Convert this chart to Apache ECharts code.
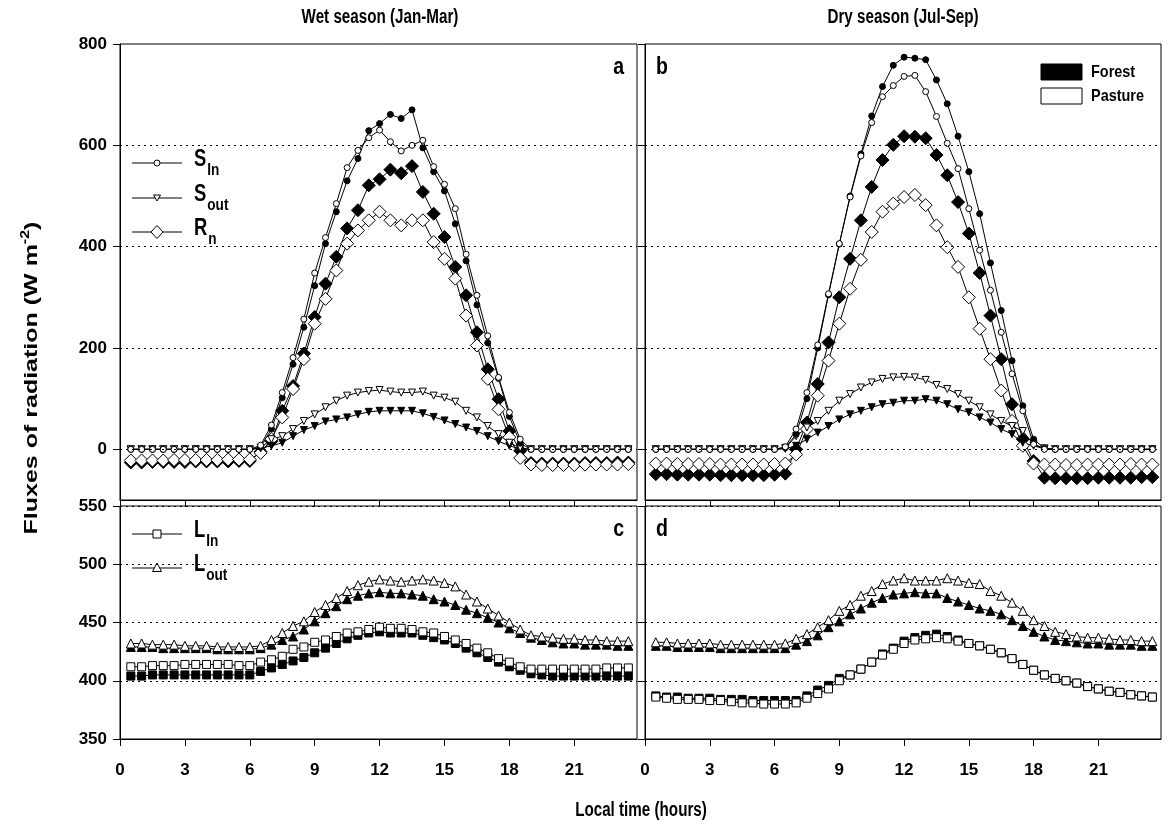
<!DOCTYPE html>
<html><head><meta charset="utf-8">
<script src="https://cdn.jsdelivr.net/npm/echarts@6/dist/echarts.min.js"></script>
<style>html,body{margin:0;padding:0;background:#fff}#c{width:1168px;height:836px}</style>
</head><body><div id="c"></div>
<script>
// ---------------- DATA ----------------
const hours = [0.5,1,1.5,2,2.5,3,3.5,4,4.5,5,5.5,6,6.5,7,7.5,8,8.5,9,9.5,10,10.5,11,11.5,12,12.5,13,13.5,14,14.5,15,15.5,16,16.5,17,17.5,18,18.5,19,19.5,20,20.5,21,21.5,22,22.5,23,23.5];
const xTickValues = [0,3,6,9,12,15,18,21];
const shortwaveTicks = [0,200,400,600,800];
const longwaveTicks = [350,400,450,500,550];
const shortwaveGrid = [0,200,400,600];

// Wet season (Jan-Mar) shortwave / net
const wetSinForest  = [0,0,0,0,0,0,0,0,0,0,0,0,5,40,102,168,241,323,406,469,530,574,629,643,661,653,670,595,548,510,445,372,285,210,140,65,12,0,0,0,0,0,0,0,0,0,0];
const wetSinPasture = [0,0,0,0,0,0,0,0,0,0,0,0,8,48,112,181,257,348,418,485,556,590,615,630,607,589,600,610,558,523,475,385,304,224,142,73,20,0,0,0,0,0,0,0,0,0,0];
const wetSoutForest = [0,0,0,0,0,0,0,0,0,0,0,0,2,7,13,26,38,46,55,59,63,69,74,76,76,76,76,71,64,57,50,43,36,26,16,7,1,0,0,0,0,0,0,0,0,0,0];
const wetSoutPasture= [0,0,0,0,0,0,0,0,0,0,0,0,3,20,26,40,56,69,83,96,106,112,115,117,114,112,112,114,106,102,94,76,63,46,30,13,3,0,0,0,0,0,0,0,0,0,0];
const wetRnForest   = [-26,-26,-25,-25,-25,-25,-24,-24,-24,-24,-23,-23,-5,16,76,125,189,261,327,380,436,472,521,533,552,545,559,508,465,419,360,304,231,158,99,36,-3,-27,-28,-28,-28,-28,-27,-27,-27,-26,-26];
const wetRnPasture  = [-22,-22,-22,-22,-21,-21,-21,-21,-21,-20,-20,-20,-7,20,63,119,178,248,297,353,406,432,452,469,452,442,452,452,409,376,337,264,205,139,79,24,-17,-30,-31,-31,-31,-31,-30,-30,-30,-30,-29];

// Dry season (Jul-Sep) shortwave / net
const drySinForest  = [0,0,0,0,0,0,0,0,0,0,0,0,3,30,100,200,305,405,500,583,658,716,758,774,772,769,729,682,618,548,465,368,274,175,86,20,2,0,0,0,0,0,0,0,0,0,0];
const drySinPasture = [0,0,0,0,0,0,0,0,0,0,0,0,5,40,112,206,307,406,498,579,645,696,718,736,738,706,657,604,554,475,393,314,231,149,76,10,0,0,0,0,0,0,0,0,0,0,0];
const drySoutForest = [0,0,0,0,0,0,0,0,0,0,0,0,1,7,20,33,46,59,69,76,83,89,92,96,96,99,96,89,79,73,63,53,40,30,13,7,1,0,0,0,0,0,0,0,0,0,0];
const drySoutPasture= [0,0,0,0,0,0,0,0,0,0,0,0,3,26,43,56,76,96,109,122,132,139,142,143,142,137,127,119,109,96,83,69,56,46,36,10,2,0,0,0,0,0,0,0,0,0,0];
const dryRnForest   = [-49,-49,-50,-50,-50,-50,-51,-51,-51,-51,-51,-50,-48,0,53,129,211,300,376,452,518,571,601,618,617,614,581,541,488,426,348,264,178,89,20,-23,-56,-57,-57,-57,-57,-56,-56,-56,-56,-55,-55];
const dryRnPasture  = [-28,-28,-29,-29,-29,-29,-30,-30,-30,-30,-30,-29,-28,-10,40,106,175,248,317,374,429,469,485,498,502,482,442,399,360,300,238,178,116,56,7,-28,-30,-30,-31,-31,-30,-30,-30,-30,-29,-30,-30];

// Wet season longwave
const wetLoutForest  = [429,429,429,428,428,428,428,428,427,427,427,427,428,431,435,438,444,451,458,464,470,473,475,476,475,475,474,473,470,468,465,461,458,454,450,445,441,437,435,433,432,432,431,431,431,430,430];
const wetLoutPasture = [432,432,431,431,431,430,430,430,429,429,429,429,430,435,441,447,451,459,465,471,477,482,485,487,486,485,486,487,486,484,481,474,468,462,456,450,444,439,438,437,436,436,435,435,434,434,434];
const wetLinForest   = [404,404,405,405,405,405,405,405,405,405,405,405,408,411,414,417,420,424,428,432,436,439,441,442,441,441,441,439,437,435,432,428,424,420,416,412,409,406,405,404,404,404,404,404,404,404,404];
const wetLinPasture  = [412,412,413,413,413,414,414,414,414,414,413,413,416,418,421,427,429,433,435,438,441,442,444,446,445,445,444,442,441,438,435,432,428,424,419,416,412,410,410,410,410,410,410,410,411,411,411];

// Dry season longwave
const dryLoutForest  = [430,430,429,429,429,429,428,428,428,428,428,428,428,431,434,439,446,451,457,462,467,471,474,475,476,475,475,471,468,465,462,460,457,452,447,442,438,435,434,433,432,432,431,431,431,430,430];
const dryLoutPasture = [433,433,432,432,432,432,431,431,431,431,431,431,432,436,440,446,452,460,465,473,477,483,486,488,486,486,486,488,486,484,483,477,473,467,460,452,447,442,440,438,437,437,436,435,435,434,434];
const dryLinForest   = [387,386,386,385,385,385,384,384,384,383,383,383,383,383,387,392,396,402,405,410,416,423,428,434,437,439,440,438,435,432,430,427,424,419,414,409,405,402,400,398,395,393,391,390,388,387,386];
const dryLinPasture  = [386,385,384,384,384,383,383,382,381,381,380,380,380,381,385,389,393,400,405,410,416,422,427,432,435,436,437,436,434,432,430,427,424,419,414,409,405,402,400,398,395,393,391,390,388,387,386];

// ---------------- CHART ----------------
const FF = '"Liberation Sans", Arial, Helvetica, sans-serif';
const NARROW = '"Liberation Sans Narrow"';
const ctx = document.createElement('canvas').getContext('2d');
function tw(t, size){ ctx.font = 'bold ' + size + 'px ' + FF; return ctx.measureText(t).width; }
// is a condensed face installed?
ctx.font = 'bold 20px ' + NARROW + ', monospace';
const wN = ctx.measureText('Wet season 0123').width;
ctx.font = 'bold 20px monospace';
const wM = ctx.measureText('Wet season 0123').width;
const hasNarrow = Math.abs(wN - wM) > 0.5;
const tickFontFamily = hasNarrow ? NARROW + ', ' + FF : FF;
const tickFontSize = hasNarrow ? 20 : 17;

const gridLine = {color:'#000', width:1, type:[2,4]};

function mk(name, vals, gi, symbol, size, filled, rotate, extra){
  const s = {
    type:'line', name: name, xAxisIndex: gi, yAxisIndex: gi,
    data: hours.map((h,i)=>[h, vals[i]]),
    symbol: symbol, symbolSize: size, symbolRotate: rotate || 0, showSymbol: true,
    lineStyle:{color:'#000', width:1},
    itemStyle:{color: filled ? '#000' : '#fff', borderColor:'#000', borderWidth:1},
    emphasis:{disabled:true}, silent:true, animation:false, clip:true
  };
  return Object.assign(s, extra || {});
}
function gridMarks(){
  return {markLine:{silent:true, symbol:['none','none'], label:{show:false}, lineStyle:gridLine, animation:false,
    data: shortwaveGrid.map(v=>({yAxis:v}))}};
}

const series = [
  mk('Rn forest', wetRnForest, 0, 'diamond', 13, true, 0, gridMarks()),
  mk('Rn pasture', wetRnPasture, 0, 'diamond', 13, false),
  mk('Sout forest', wetSoutForest, 0, 'triangle', 7, true, 180),
  mk('Sout pasture', wetSoutPasture, 0, 'triangle', 7, false, 180),
  mk('Sin forest', wetSinForest, 0, 'circle', 6, true),
  mk('Sin pasture', wetSinPasture, 0, 'circle', 6, false),
  mk('Rn forest', dryRnForest, 1, 'diamond', 13, true, 0, gridMarks()),
  mk('Rn pasture', dryRnPasture, 1, 'diamond', 13, false),
  mk('Sout forest', drySoutForest, 1, 'triangle', 7, true, 180),
  mk('Sout pasture', drySoutPasture, 1, 'triangle', 7, false, 180),
  mk('Sin forest', drySinForest, 1, 'circle', 6, true),
  mk('Sin pasture', drySinPasture, 1, 'circle', 6, false),
  mk('Lin forest', wetLinForest, 2, 'rect', 8, true),
  mk('Lin pasture', wetLinPasture, 2, 'rect', 8, false),
  mk('Lout forest', wetLoutForest, 2, 'triangle', 9, true),
  mk('Lout pasture', wetLoutPasture, 2, 'triangle', 9, false),
  mk('Lin forest', dryLinForest, 3, 'rect', 8, true),
  mk('Lin pasture', dryLinPasture, 3, 'rect', 8, false),
  mk('Lout forest', dryLoutForest, 3, 'triangle', 9, true),
  mk('Lout pasture', dryLoutPasture, 3, 'triangle', 9, false)
];

const gridBox = {show:true, borderColor:'#000', borderWidth:1, backgroundColor:'transparent'};
const grids = [
  Object.assign({left:120, top:44, width:517, height:456}, gridBox),
  Object.assign({left:645, top:44, width:516, height:456}, gridBox),
  Object.assign({left:120, top:506, width:517, height:233}, gridBox),
  Object.assign({left:645, top:506, width:516, height:233}, gridBox)
];

const tickFont = {color:'#000', fontSize:tickFontSize, fontWeight:'bold', fontFamily:tickFontFamily};
const xAxes = [0,1,2,3].map(i=>({
  gridIndex:i, type:'value', min:0, max:23.9, position:'bottom',
  axisLine:{show:true, onZero:false, lineStyle:{color:'#000', width:1}},
  axisTick:{show:true, inside:false, length:7, lineStyle:{color:'#000'}, customValues:xTickValues},
  axisLabel:Object.assign({show:i>=2, margin:23, customValues:xTickValues, formatter:v=>String(v)}, tickFont),
  splitLine:{show:false}
}));
const yAxes = [
  {gridIndex:0, min:-100, max:800, labels:true, ticks:shortwaveTicks},
  {gridIndex:1, min:-100, max:800, labels:false, ticks:shortwaveTicks},
  {gridIndex:2, min:350, max:550, labels:true, ticks:longwaveTicks},
  {gridIndex:3, min:350, max:550, labels:false, ticks:longwaveTicks}
].map(a=>({
  gridIndex:a.gridIndex, type:'value', min:a.min, max:a.max,
  interval: a.gridIndex>=2 ? 50 : undefined,
  axisLine:{show:true, onZero:false, lineStyle:{color:'#000', width:1}},
  axisTick:{show:true, inside:false, length:7, lineStyle:{color:'#000'}, customValues:a.ticks},
  axisLabel:Object.assign({show:a.labels, margin:13, customValues:a.ticks}, tickFont),
  splitLine:{show:a.gridIndex>=2, lineStyle:gridLine}
}));

// ----- graphic texts / legends -----
const G = [];
function txt(x, y, text, size, align, extra){
  G.push(Object.assign({type:'text', x:x, y:y, silent:true,
    style:{text:text, font:'bold '+size+'px '+FF, fill:'#000', textAlign:align||'center', textVerticalAlign:'middle'}}, extra||{}));
}
const SX = 0.76; // condensed look of the source figure
txt(380, 17, 'Wet season (Jan-Mar)', 20, 'center', {scaleX:SX});
txt(903, 17, 'Dry season (Jul-Sep)', 20, 'center', {scaleX:SX});
txt(641, 810, 'Local time (hours)', 20, 'center', {scaleX:SX});
// y axis name (rotated, reading upward) with superscript
(function(){
  const F = 25, f = 16;
  const s1 = 'Fluxes of radiation (W m', s2 = '-2', s3 = ')';
  const w1 = tw(s1,F), w2 = tw(s2,f), w3 = tw(s3,F);
  const W = w1 + w2 + w3, cx = 32, cy = 378;
  const start = cy + W/2;
  const rot = {rotation:Math.PI/2, scaleY:SX};
  txt(cx, start - w1/2, s1, F, 'center', rot);
  txt(cx - 6, start - w1 - w2/2, s2, f, 'center', rot);
  txt(cx, start - w1 - w2 - w3/2, s3, F, 'center', rot);
})();
// panel letters
txt(624, 68, 'a', 23, 'right', {scaleX:0.85});
txt(656, 68, 'b', 23, 'left', {scaleX:0.85});
txt(624, 530, 'c', 23, 'right', {scaleX:0.85});
txt(656, 530, 'd', 23, 'left', {scaleX:0.85});

// legend entries (panels a and c)
function legendRow(y, main, sub, marker){
  G.push({type:'line', silent:true, shape:{x1:132, y1:y, x2:182, y2:y}, style:{stroke:'#000', lineWidth:1}});
  G.push(marker);
  txt(194, y-3, main, 23, 'left', {scaleX:0.8});
  txt(194 + tw(main,23)*0.8 + 1, y+7, sub, 17, 'left', {scaleX:0.8});
}
const mx = 157;
legendRow(163, 'S', 'In', {type:'circle', silent:true, shape:{cx:mx, cy:163, r:3}, style:{fill:'#fff', stroke:'#000', lineWidth:1}});
legendRow(198, 'S', 'out', {type:'polygon', silent:true, shape:{points:[[mx-3.5,195],[mx+3.5,195],[mx,201]]}, style:{fill:'#fff', stroke:'#000', lineWidth:1}});
legendRow(232, 'R', 'n', {type:'polygon', silent:true, shape:{points:[[mx,225.5],[mx+6,232],[mx,238.5],[mx-6,232]]}, style:{fill:'#fff', stroke:'#000', lineWidth:1}});
legendRow(534, 'L', 'In', {type:'rect', silent:true, shape:{x:mx-4, y:530, width:8, height:8}, style:{fill:'#fff', stroke:'#000', lineWidth:1}});
legendRow(568, 'L', 'out', {type:'polygon', silent:true, shape:{points:[[mx,563],[mx+4.5,571.5],[mx-4.5,571.5]]}, style:{fill:'#fff', stroke:'#000', lineWidth:1}});

// Forest / Pasture legend
G.push({type:'rect', silent:true, shape:{x:1041, y:64, width:41, height:16}, style:{fill:'#000', stroke:'#000', lineWidth:1}});
G.push({type:'rect', silent:true, shape:{x:1041, y:88, width:41, height:16}, style:{fill:'#fff', stroke:'#000', lineWidth:1}});
txt(1091, 72, 'Forest', 17, 'left', {scaleX:0.85});
txt(1091, 96, 'Pasture', 17, 'left', {scaleX:0.85});

const chart = echarts.init(document.getElementById('c'), null, {renderer:'canvas'});
chart.setOption({
  animation:false, backgroundColor:'#fff',
  grid:grids, xAxis:xAxes, yAxis:yAxes, series:series, graphic:G
});
</script>
</body></html>
